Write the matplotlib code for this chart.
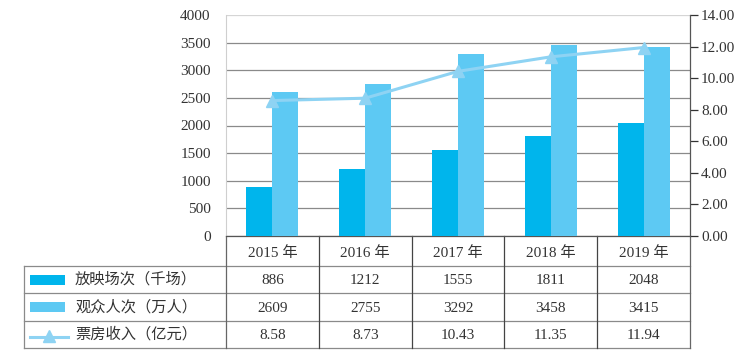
import matplotlib
matplotlib.use("Agg")
import matplotlib.pyplot as plt
from matplotlib.lines import Line2D
from matplotlib.patches import Rectangle
from matplotlib.transforms import blended_transform_factory

# ---- data ----
years = ["2015 年", "2016 年", "2017 年", "2018 年", "2019 年"]
screenings = [886, 1212, 1555, 1811, 2048]          # 放映场次（千场）
audience = [2609, 2755, 3292, 3458, 3415]           # 观众人次（万人）
boxoffice = [8.58, 8.73, 10.43, 11.35, 11.94]        # 票房收入（亿元）
series_names = ["放映场次（千场）", "观众人次（万人）", "票房收入（亿元）"]
left_ticks = [0, 500, 1000, 1500, 2000, 2500, 3000, 3500, 4000]
right_ticks = [0, 2, 4, 6, 8, 10, 12, 14]

c_dark = "#00B5EC"
c_light = "#5DC9F3"
c_line = "#8ED3F3"
FONT = ["Liberation Serif", "Noto Sans CJK SC", "DejaVu Sans"]
plt.rcParams["font.family"] = FONT

W, H = 750, 361
fig = plt.figure(figsize=(W / 100, H / 100), dpi=100)

# pixel overlay for table
ov = fig.add_axes([0, 0, 1, 1])
ov.set_xlim(0, W)
ov.set_ylim(H, 0)
ov.axis("off")

L, R, T, B = 226, 690, 15, 236
ax = fig.add_axes([L / W, 1 - B / H, (R - L) / W, (B - T) / H])
ax.set_zorder(2)
ax.patch.set_visible(False)

x = list(range(len(years)))
bw = 0.28
ax.bar([i - bw / 2 for i in x], screenings, bw, color=c_dark, zorder=3)
ax.bar([i + bw / 2 for i in x], audience, bw, color=c_light, zorder=3)
ax.set_xlim(-0.5, len(years) - 0.5)
ax.set_ylim(0, 4000)
ax.set_yticks(left_ticks)
ax.set_xticks([])
ax.tick_params(axis="y", length=0, pad=11, labelsize=11, colors="#333333")
ax.yaxis.grid(True, color="#8a8a8a", lw=0.9, zorder=0)
gl = ax.get_ygridlines()
gl[-1].set_color("#d5d5d5")
ax.set_axisbelow(True)
for s in ["top", "right"]:
    ax.spines[s].set_visible(False)
ax.spines["left"].set_color("#cfcfcf")
ax.spines["bottom"].set_color("#555555")
ax.spines["bottom"].set_linewidth(0.9)

ax2 = ax.twinx()
ax2.plot(x, boxoffice, color=c_line, lw=2.2, marker="^", ms=9, zorder=4)
ax2.set_ylim(0, 14)
ax2.set_yticks(right_ticks)
ax2.set_yticklabels([f"{v:.2f}" for v in right_ticks])
ax2.tick_params(axis="y", length=6, width=0.9, color="#777777", pad=2,
                labelsize=11, colors="#333333")
ax2.tick_params(axis="y", colors="#333333")
for s in ["top", "left", "bottom"]:
    ax2.spines[s].set_visible(False)
ax2.spines["right"].set_color("#555555")
ax2.spines["right"].set_linewidth(0.9)

# ---- table ----
rows = [B, 266, 293, 321, 348]
tl = 24
hcol = "#8a8a8a"
vcol = "#444444"
for yy in rows[1:]:
    ov.add_line(Line2D([tl, R], [yy, yy], color=hcol, lw=0.9))
ov.add_line(Line2D([tl, tl], [rows[1], rows[-1]], color=hcol, lw=0.9))
bounds = [L + (R - L) * k / len(years) for k in range(len(years) + 1)]
for k, bx in enumerate(bounds):
    ov.add_line(Line2D([bx, bx], [B, rows[-1]], color=vcol if 0 < k < len(years) else "#666666", lw=0.9))

tr = blended_transform_factory(ax.transData, ov.transData)
table_vals = [
    [str(v) for v in screenings],
    [str(v) for v in audience],
    [f"{v:.2f}" for v in boxoffice],
]
for i, yl in enumerate(years):
    ov.text(i, (rows[0] + rows[1]) / 2 + 2, yl, transform=tr, ha="center", va="center",
            fontsize=11, color="#333333")
    for r in range(3):
        ov.text(i, (rows[r + 1] + rows[r + 2]) / 2 + 1, table_vals[r][i], transform=tr,
                ha="center", va="center", fontsize=11, color="#333333")

# legend column
for r, name in enumerate(series_names):
    yc = (rows[r + 1] + rows[r + 2]) / 2
    if r < 2:
        ov.add_patch(Rectangle((30, yc - 5), 35, 10, color=[c_dark, c_light][r], lw=0))
    else:
        ov.add_line(Line2D([30, 68], [yc + 2, yc + 2], color=c_line, lw=2.2))
        ov.add_line(Line2D([49], [yc + 1], color=c_line, marker="^", ms=9, lw=0))
    ov.text(75, yc, name, ha="left", va="center", fontsize=11, color="#333333")

fig.savefig("out.png", dpi=100)
